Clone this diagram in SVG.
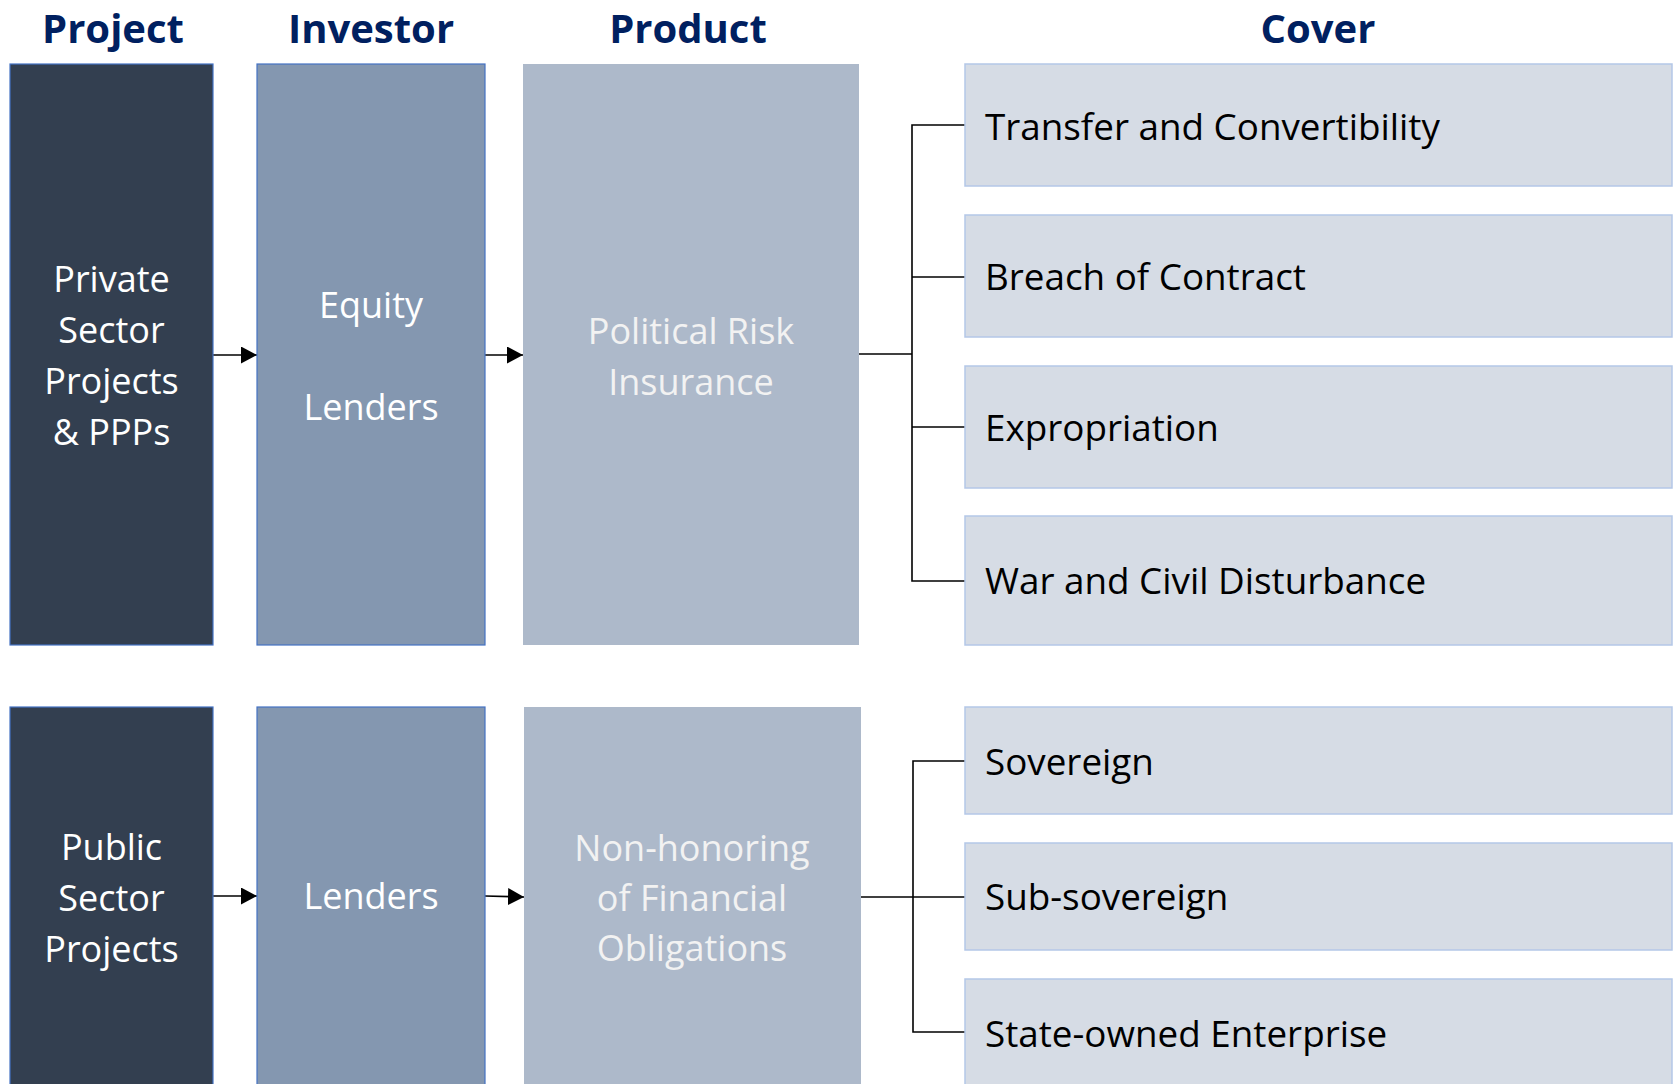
<svg xmlns="http://www.w3.org/2000/svg" width="1673" height="1084" viewBox="0 0 1673 1084">
<defs>
<style>
.hdr{font-family:"Open Sans","Liberation Sans",sans-serif;font-weight:700;font-size:40px;fill:#002060;text-anchor:middle}
.t{font-family:"Open Sans","Liberation Sans",sans-serif;font-size:36px;text-anchor:middle}
.w{fill:#FFFFFF}
.lw{fill:#F2F2F2}
.c{font-family:"Open Sans","Liberation Sans",sans-serif;font-size:36.8px;fill:#000000}
.proj{fill:#333F50;stroke:#4472C4;stroke-width:1.2}
.inv{fill:#8497B0;stroke:#4472C4;stroke-width:1.2}
.prod{fill:#ADB9CA}
.cov{fill:#D6DCE5;stroke:#B4C7E7;stroke-width:1.5}
.ln{fill:none;stroke:#000000;stroke-width:1.6}
</style>
<marker id="ah" markerWidth="16" markerHeight="17" refX="16" refY="8.5" orient="auto" markerUnits="userSpaceOnUse">
<path d="M0,0 L16,8.5 L0,17 Z" fill="#000000"/>
</marker>
</defs>
<rect width="1673" height="1084" fill="#FFFFFF"/>
<g id="headers">
<text class="hdr" x="113" y="43">Project</text>
<text class="hdr" x="371" y="43">Investor</text>
<text class="hdr" x="688" y="43">Product</text>
<text class="hdr" x="1318" y="43">Cover</text>
</g>
<g id="connectors">
<line class="ln" x1="213" y1="355" x2="257" y2="355" marker-end="url(#ah)"/>
<line class="ln" x1="485" y1="355" x2="523" y2="355" marker-end="url(#ah)"/>
<line class="ln" x1="859" y1="354" x2="912" y2="354"/>
<polyline class="ln" points="965,125 912,125 912,581 965,581"/>
<line class="ln" x1="912" y1="277" x2="965" y2="277"/>
<line class="ln" x1="912" y1="427" x2="965" y2="427"/>
<line class="ln" x1="213" y1="896" x2="257" y2="896" marker-end="url(#ah)"/>
<line class="ln" x1="485" y1="896" x2="524" y2="897" marker-end="url(#ah)"/>
<line class="ln" x1="861" y1="897" x2="913" y2="897"/>
<polyline class="ln" points="965,761 913,761 913,1032 965,1032"/>
<line class="ln" x1="913" y1="897" x2="965" y2="897"/>
</g>
<g id="node-private-projects">
<rect class="proj" x="10" y="64" width="203" height="581"/>
<text class="t w" x="111.5" y="292">Private</text>
<text class="t w" x="111.5" y="343">Sector</text>
<text class="t w" x="111.5" y="394">Projects</text>
<text class="t w" x="111.5" y="445">&amp; PPPs</text>
</g>
<g id="node-equity-lenders">
<rect class="inv" x="257" y="64" width="228" height="581"/>
<text class="t w" x="371" y="318">Equity</text>
<text class="t w" x="371" y="420">Lenders</text>
</g>
<g id="node-pri">
<rect class="prod" x="523" y="64" width="336" height="581"/>
<text class="t lw" x="691" y="344">Political Risk</text>
<text class="t lw" x="691" y="395">Insurance</text>
</g>
<g id="node-transfer">
<rect class="cov" x="965" y="64" width="707" height="122"/>
<text class="c" x="985" y="140">Transfer and Convertibility</text>
</g>
<g id="node-breach">
<rect class="cov" x="965" y="215" width="707" height="122"/>
<text class="c" x="985" y="290">Breach of Contract</text>
</g>
<g id="node-expropriation">
<rect class="cov" x="965" y="366" width="707" height="122"/>
<text class="c" x="985" y="441">Expropriation</text>
</g>
<g id="node-war">
<rect class="cov" x="965" y="516" width="707" height="129"/>
<text class="c" x="985" y="594">War and Civil Disturbance</text>
</g>
<g id="node-public-projects">
<rect class="proj" x="10" y="707" width="203" height="390"/>
<text class="t w" x="111.5" y="860">Public</text>
<text class="t w" x="111.5" y="911">Sector</text>
<text class="t w" x="111.5" y="962">Projects</text>
</g>
<g id="node-lenders">
<rect class="inv" x="257" y="707" width="228" height="390"/>
<text class="t w" x="371" y="909">Lenders</text>
</g>
<g id="node-nhfo">
<rect class="prod" x="524" y="707" width="337" height="390"/>
<text class="t lw" x="692" y="861">Non-honoring</text>
<text class="t lw" x="692" y="911">of Financial</text>
<text class="t lw" x="692" y="961">Obligations</text>
</g>
<g id="node-sovereign">
<rect class="cov" x="965" y="707" width="707" height="107"/>
<text class="c" x="985" y="775">Sovereign</text>
</g>
<g id="node-subsovereign">
<rect class="cov" x="965" y="843" width="707" height="107"/>
<text class="c" x="985" y="910">Sub-sovereign</text>
</g>
<g id="node-soe">
<rect class="cov" x="965" y="979" width="707" height="120"/>
<text class="c" x="985" y="1047">State-owned Enterprise</text>
</g>
</svg>
